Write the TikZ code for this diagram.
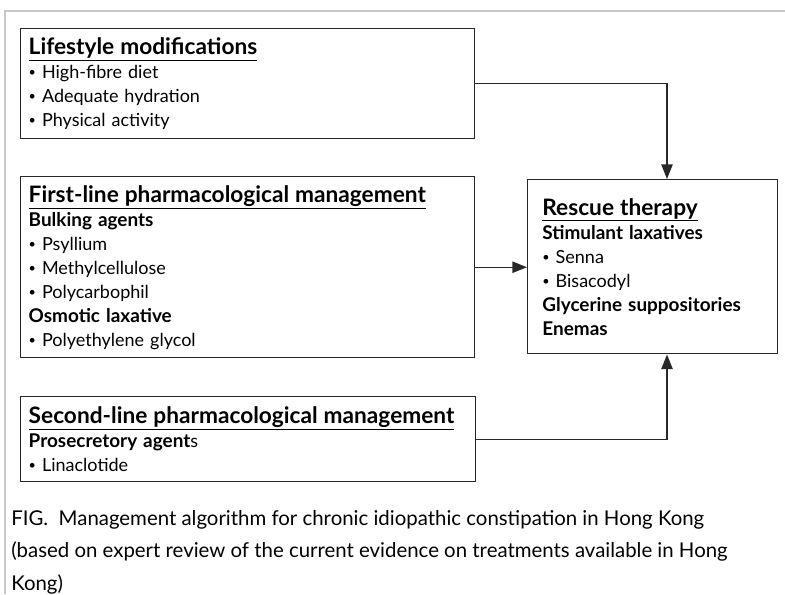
\documentclass[tikz,border=0pt]{standalone}
\usepackage{fontspec}
\setmainfont{Lato}
\usetikzlibrary{arrows.meta,calc,positioning}
\definecolor{boxclr}{RGB}{40,40,40}
\definecolor{framegray}{RGB}{200,200,200}
\newcommand{\boxfont}{\fontsize{13.5}{18}\selectfont}
\newcommand{\capfont}{\fontsize{15.3}{24.5}\selectfont}
\newcommand{\boxhead}[1]{\raisebox{0pt}[\height][0pt]{\fontsize{17}{18}\selectfont\underline{\textbf{#1}}}}
\newcommand{\subhead}[1]{{\fontsize{14.2}{18}\selectfont\textbf{#1}}}
\newcommand{\bul}{\raisebox{0.2ex}{\scalebox{0.7}{\textbullet}}\ }
\tikzset{
  % Kastchen
  stepbox/.style   = {draw=boxclr, line width=1.1pt, align=left, anchor=north west,
                      inner xsep=6pt, inner ysep=0pt, font=\boxfont},
  % Pfeile
  flowarrow/.style = {-{Triangle[length=11pt,width=8.5pt]}, line width=1.1pt, draw=boxclr},
  % Rahmen
  frameline/.style = {draw=framegray, line width=1.2pt},
}

\begin{document}
\begin{tikzpicture}[x=0.75pt, y=-0.75pt]
  \useasboundingbox (0,0) rectangle (785,594);
  % Seitenrahmen
  \draw[frameline] (785,11) -- (5,11) -- (5,594);
  % Kastchen links
  \node[stepbox, text width=328.5pt, minimum height=82.5pt] (life) at (20,28)
    {\boxhead{Lifestyle modifications}\\
     \bul High-fibre diet\\
     \bul Adequate hydration\\
     \bul Physical activity};
  \node[stepbox, text width=328.5pt, minimum height=135.75pt] (first) at (20,176)
    {\boxhead{First-line pharmacological management}\\
     \subhead{Bulking agents}\\
     \bul Psyllium\\
     \bul Methylcellulose\\
     \bul Polycarbophil\\
     \subhead{Osmotic laxative}\\
     \bul Polyethylene glycol};
  \node[stepbox, text width=329.25pt, minimum height=63.75pt] (second) at (20,396)
    {\boxhead{Second-line pharmacological management}\\
     \subhead{Prosecretory agent}s\\
     \bul Linaclotide};
  % Kastchen rechts
  \node[stepbox, inner xsep=11pt, text width=165.5pt, minimum height=130.5pt] (rescue) at (527,179)
    {\boxhead{Rescue therapy}\\
     \subhead{Stimulant laxatives}\\
     \bul Senna\\
     \bul Bisacodyl\\
     \mbox{\subhead{Glycerine suppositories}}\\
     \subhead{Enemas}};
  % Verbindungen
  \coordinate (col) at (667,0);
  \draw[flowarrow] (life.east) -| (col |- rescue.north);
  \draw[flowarrow] (first.east) -- (first.east -| rescue.west);
  \draw[flowarrow] (second.east) -| (col |- rescue.south);
  % Bildunterschrift
  \node[anchor=north west, align=left, inner sep=0pt, font=\capfont] (caption) at (11,510)
    {FIG.\ \ Management algorithm for chronic idiopathic constipation in Hong Kong\\
     (based on expert review of the current evidence on treatments available in Hong\\
     Kong)};
\end{tikzpicture}
\end{document}
